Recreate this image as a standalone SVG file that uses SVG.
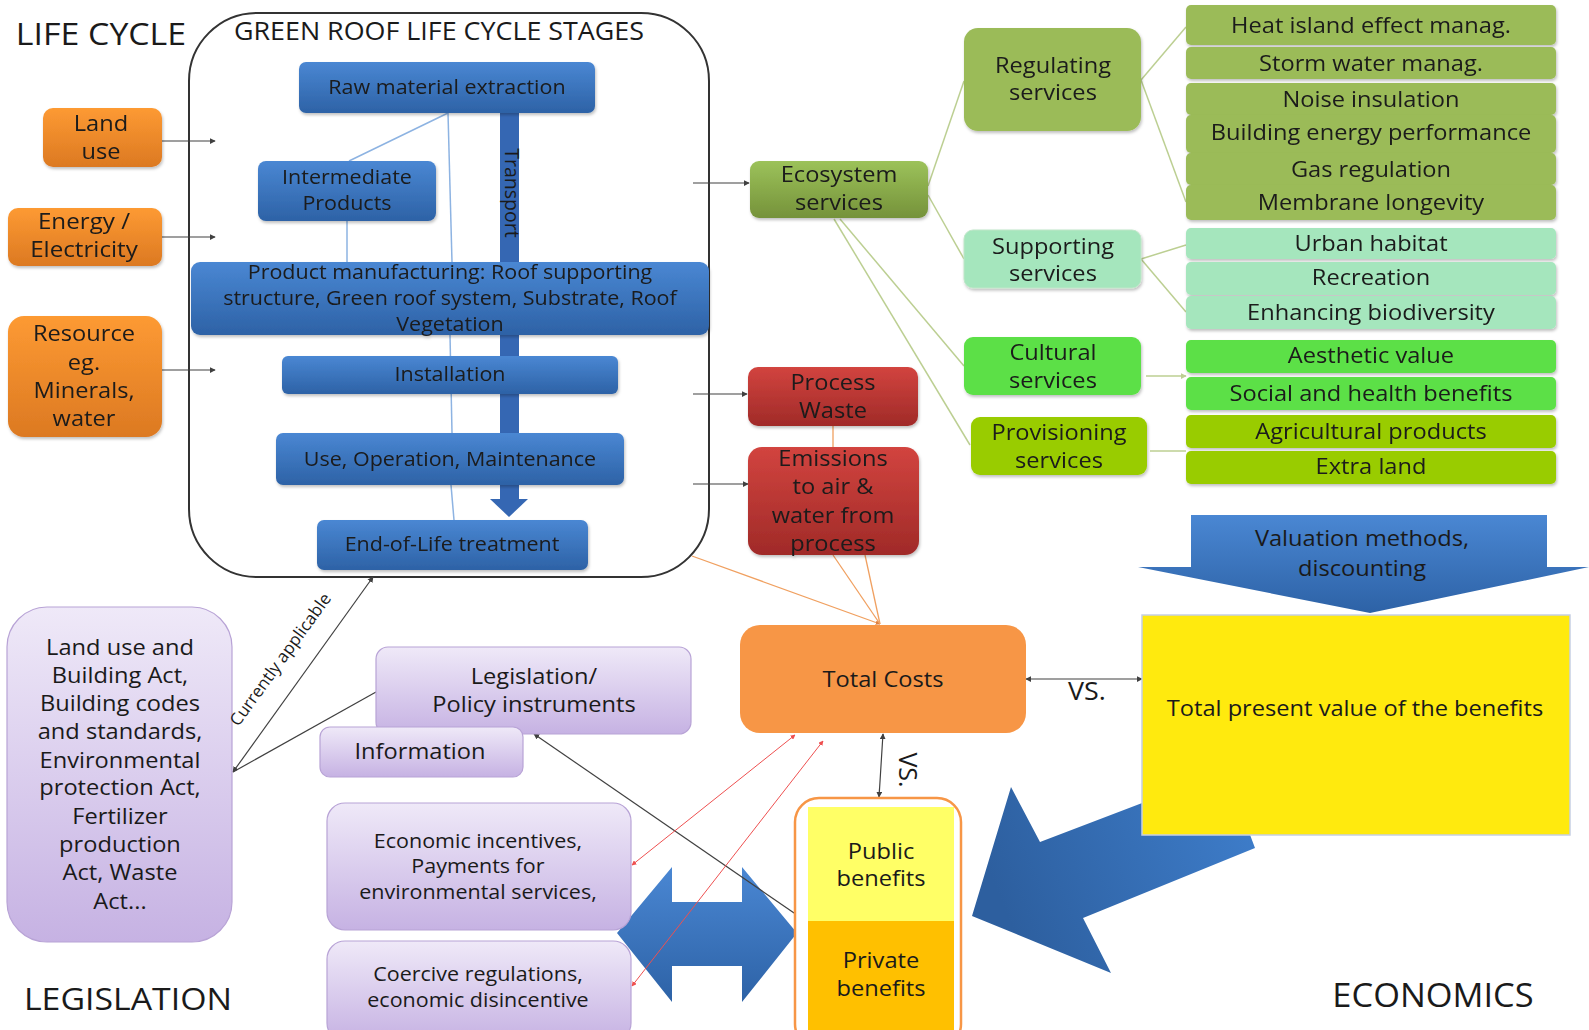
<svg xmlns="http://www.w3.org/2000/svg" width="1589" height="1030" viewBox="0 0 1589 1030">
<style>
.tx{font-family:'Open Sans','Liberation Sans',sans-serif;fill:#1a1a1a;text-anchor:middle;transform-box:fill-box;transform-origin:center;transform:scaleX(1.075)}
.rt{font-family:'Open Sans','Liberation Sans',sans-serif;fill:#1a1a1a;text-anchor:middle}
.s20{font-size:20px}.s21{font-size:21px}.s22{font-size:22px}
.blue{fill:url(#gBlue)}
.org{fill:url(#gOrg)}
.red{fill:url(#gRed)}
.pur{fill:url(#gPur);stroke:#b8a3d6;stroke-width:1.2}
.sh{filter:url(#shadow)}
.ln{fill:none;stroke:#404040;stroke-width:1.2}
.lb{fill:none;stroke:#8db3e2;stroke-width:1.5}
.lg{fill:none;stroke:#bccf92;stroke-width:1.5}
.lo{fill:none;stroke:#f0a060;stroke-width:1.3}
.lr{fill:none;stroke:#ee5050;stroke-width:1}
</style>
<defs>
<linearGradient id="gBlue" x1="0" y1="0" x2="0" y2="1"><stop offset="0" stop-color="#4a87d3"/><stop offset="1" stop-color="#2d62a6"/></linearGradient>
<linearGradient id="gBlueH" x1="1" y1="0" x2="0" y2="0.3"><stop offset="0" stop-color="#3f7fcd"/><stop offset="1" stop-color="#2d5f9f"/></linearGradient>
<linearGradient id="gOrg" x1="0" y1="0" x2="0" y2="1"><stop offset="0" stop-color="#fd9a33"/><stop offset="1" stop-color="#dc7922"/></linearGradient>
<linearGradient id="gRed" x1="0" y1="0" x2="0" y2="1"><stop offset="0" stop-color="#d2443f"/><stop offset="1" stop-color="#a02a28"/></linearGradient>
<linearGradient id="gGreen" x1="0" y1="0" x2="0" y2="1"><stop offset="0" stop-color="#9cc25a"/><stop offset="1" stop-color="#75923a"/></linearGradient>
<linearGradient id="gPur" x1="0" y1="0" x2="0" y2="1"><stop offset="0" stop-color="#efe9f8"/><stop offset="1" stop-color="#c6b2e3"/></linearGradient>
<filter id="shadow" x="-10%" y="-10%" width="120%" height="130%"><feDropShadow dx="1" dy="2" stdDeviation="1.5" flood-color="#000" flood-opacity="0.25"/></filter>
<marker id="ak" viewBox="0 0 8 8" refX="7" refY="4" markerWidth="6" markerHeight="6" markerUnits="userSpaceOnUse" orient="auto-start-reverse"><path d="M0,0 L8,4 L0,8 z" fill="#404040"/></marker>
<marker id="ag" viewBox="0 0 8 8" refX="7" refY="4" markerWidth="6" markerHeight="6" markerUnits="userSpaceOnUse" orient="auto-start-reverse"><path d="M0,0 L8,4 L0,8 z" fill="#bccf92"/></marker>
<marker id="ar" viewBox="0 0 8 8" refX="7" refY="4" markerWidth="5" markerHeight="5" markerUnits="userSpaceOnUse" orient="auto-start-reverse"><path d="M0,0 L8,4 L0,8 z" fill="#ee5050"/></marker>
<marker id="ao" viewBox="0 0 8 8" refX="7" refY="4" markerWidth="5" markerHeight="5" markerUnits="userSpaceOnUse" orient="auto-start-reverse"><path d="M0,0 L8,4 L0,8 z" fill="#e08040"/></marker>
</defs>
<rect width="1589" height="1030" fill="#ffffff"/>

<!-- section titles -->
<text class="tx" x="101" y="45" font-size="31.5">LIFE CYCLE</text>
<text class="tx" x="128" y="1010" font-size="31.5">LEGISLATION</text>
<text class="tx" x="1433" y="1007" font-size="32">ECONOMICS</text>

<!-- life cycle frame -->
<g id="life-cycle-frame">
<rect x="189" y="13" width="520" height="564" rx="68" fill="#ffffff" stroke="#333333" stroke-width="2"/>
<text class="tx" x="439" y="40" font-size="25">GREEN ROOF LIFE CYCLE STAGES</text>
</g>

<!-- transport arrow -->
<g id="transport">
<rect x="500" y="113" width="19" height="386" fill="#3567b3"/>
<polygon points="490,499 528,499 509,517" fill="#3567b3"/>
<text class="rt" font-size="19.5" transform="translate(512,193) rotate(90)" x="0" y="7">Transport</text>
</g>

<!-- big arrows -->
<g id="benefit-arrow">
<polygon points="1226,771 1040,842 1011,787 972,916 1111,973 1083,918 1255,848" fill="url(#gBlueH)"/>
</g>
<g id="policy-arrow">
<polygon points="617,933 672,867 672,902 742,902 742,867 797,933 742,1002 742,966 672,966 672,1002" fill="url(#gBlue)"/>
</g>
<g id="valuation-arrow">
<polygon points="1191,515 1547,515 1547,567 1589,567 1370,613 1138,567 1191,567" fill="url(#gBlue)"/>
<text class="tx s22" x="1362" y="546">Valuation methods,</text>
<text class="tx s22" x="1362" y="576">discounting</text>
</g>

<!-- connectors -->
<g id="connectors">
<path class="ln" d="M162,141 H215" marker-end="url(#ak)"/>
<path class="ln" d="M162,237 H215" marker-end="url(#ak)"/>
<path class="ln" d="M162,370 H215" marker-end="url(#ak)"/>
<path class="ln" d="M693,183 H749" marker-end="url(#ak)"/>
<path class="ln" d="M693,394 H747" marker-end="url(#ak)"/>
<path class="ln" d="M693,484 H748" marker-end="url(#ak)"/>
<path class="ln" d="M233,772 L373,577" marker-start="url(#ak)" marker-end="url(#ak)"/>
<path class="ln" d="M376,692 L233,772"/>
<path class="ln" d="M797,915 L534,734" marker-end="url(#ak)"/>
<path class="ln" d="M1026,679 H1142" marker-start="url(#ak)" marker-end="url(#ak)"/>
<path class="ln" d="M883,734 L879,797" marker-start="url(#ak)" marker-end="url(#ak)"/>
<path class="lb" d="M448,113 L349,161"/>
<path class="lb" d="M448,113 L452,262"/>
<path class="lb" d="M347,221 V262"/>
<path class="lb" d="M450,335 L452,433"/>
<path class="lb" d="M451,485 L454,520"/>
<path class="lg" d="M928,186 L964,81"/>
<path class="lg" d="M928,195 L964,259"/>
<path class="lg" d="M840,219 L964,366"/>
<path class="lg" d="M834,219 L970,445"/>
<path class="lg" d="M1141,80 L1186,27"/>
<path class="lg" d="M1141,80 L1186,202"/>
<path class="lg" d="M1141,259 L1186,245"/>
<path class="lg" d="M1141,259 L1186,312"/>
<path class="lg" d="M1146,376 H1186" marker-end="url(#ag)"/>
<path class="lg" d="M1150,451 H1186"/>
<path class="lo" d="M692,556 L880,624" marker-end="url(#ao)"/>
<path class="lo" d="M833,555 L880,624"/>
<path class="lo" d="M865,555 L880,624"/>
<path class="lo" d="M833,426 V447"/>
<path class="lr" d="M795,735 L632,865" marker-start="url(#ar)" marker-end="url(#ar)"/>
<path class="lr" d="M823,741 L632,986" marker-start="url(#ar)" marker-end="url(#ar)"/>
</g>

<!-- left inputs -->
<g id="land-use" class="sh"><rect class="org" x="43" y="108" width="119" height="59" rx="10"/>
<text class="tx s22" x="101" y="131">Land</text><text class="tx s22" x="101" y="159">use</text></g>
<g id="energy" class="sh"><rect class="org" x="8" y="208" width="154" height="58" rx="10"/>
<text class="tx" font-size="22.5" x="84" y="229">Energy /</text><text class="tx" font-size="22.5" x="84" y="257">Electricity</text></g>
<g id="resource" class="sh"><rect class="org" x="8" y="316" width="154" height="121" rx="16"/>
<text class="tx s22" x="84" y="341">Resource</text><text class="tx s22" x="84" y="370">eg.</text><text class="tx s22" x="84" y="398">Minerals,</text><text class="tx s22" x="84" y="426">water</text></g>

<!-- life cycle stages -->
<g id="raw-material" class="sh"><rect class="blue" x="299" y="62" width="296" height="51" rx="7"/>
<text class="tx s20" x="447" y="94">Raw material extraction</text></g>
<g id="intermediate" class="sh"><rect class="blue" x="258" y="161" width="178" height="60" rx="8"/>
<text class="tx s20" x="347" y="184">Intermediate</text><text class="tx s20" x="347" y="210">Products</text></g>
<g id="manufacturing" class="sh"><rect class="blue" x="191" y="262" width="518" height="73" rx="9"/>
<text class="tx s20" x="450" y="279">Product manufacturing: Roof supporting</text>
<text class="tx s20" x="450" y="305">structure, Green roof system, Substrate, Roof</text>
<text class="tx s20" x="450" y="331">Vegetation</text></g>
<g id="installation" class="sh"><rect class="blue" x="282" y="356" width="336" height="38" rx="6"/>
<text class="tx s20" x="450" y="381">Installation</text></g>
<g id="use-operation" class="sh"><rect class="blue" x="276" y="433" width="348" height="52" rx="7"/>
<text class="tx s20" x="450" y="466">Use, Operation, Maintenance</text></g>
<g id="end-of-life" class="sh"><rect class="blue" x="317" y="520" width="271" height="50" rx="7"/>
<text class="tx s20" x="452" y="551">End-of-Life treatment</text></g>

<!-- outputs -->
<g id="ecosystem" class="sh"><rect fill="url(#gGreen)" x="750" y="161" width="178" height="57" rx="9"/>
<text class="tx s22" x="839" y="182">Ecosystem</text><text class="tx s22" x="839" y="210">services</text></g>
<g id="process-waste" class="sh"><rect class="red" x="748" y="367" width="170" height="59" rx="10"/>
<text class="tx s22" x="833" y="390">Process</text><text class="tx s22" x="833" y="418">Waste</text></g>
<g id="emissions" class="sh"><rect class="red" x="748" y="447" width="171" height="108" rx="14"/>
<text class="tx s22" x="833" y="466">Emissions</text><text class="tx s22" x="833" y="494">to air &amp;</text><text class="tx s22" x="833" y="523">water from</text><text class="tx s22" x="833" y="551">process</text></g>

<!-- service categories -->
<g id="regulating" class="sh"><rect fill="#9bbb59" x="964" y="28" width="177" height="103" rx="14"/>
<text class="tx s22" x="1053" y="73">Regulating</text><text class="tx s22" x="1053" y="100">services</text></g>
<g id="supporting" class="sh"><rect fill="#a5e6bd" stroke="#bfe6c8" x="964" y="230" width="177" height="58" rx="9"/>
<text class="tx s22" x="1053" y="254">Supporting</text><text class="tx s22" x="1053" y="281">services</text></g>
<g id="cultural" class="sh"><rect fill="#5ce046" x="964" y="337" width="177" height="58" rx="9"/>
<text class="tx s22" x="1053" y="360">Cultural</text><text class="tx s22" x="1053" y="388">services</text></g>
<g id="provisioning" class="sh"><rect fill="#99cc00" x="971" y="417" width="176" height="58" rx="9"/>
<text class="tx s22" x="1059" y="440">Provisioning</text><text class="tx s22" x="1059" y="468">services</text></g>

<!-- services list -->
<g id="heat-island" class="sh"><rect fill="#9bbb59" x="1186" y="5" width="370" height="40" rx="5"/><text class="tx s22" x="1371" y="33">Heat island effect manag.</text></g>
<g id="storm-water" class="sh"><rect fill="#9bbb59" x="1186" y="47" width="370" height="32" rx="5"/><text class="tx s22" x="1371" y="71">Storm water manag.</text></g>
<g id="noise" class="sh"><rect fill="#9bbb59" x="1186" y="83" width="370" height="32" rx="5"/><text class="tx s22" x="1371" y="107">Noise insulation</text></g>
<g id="building-energy" class="sh"><rect fill="#9bbb59" x="1186" y="115" width="370" height="38" rx="5"/><text class="tx s22" x="1371" y="140">Building energy performance</text></g>
<g id="gas" class="sh"><rect fill="#9bbb59" x="1186" y="153" width="370" height="32" rx="5"/><text class="tx s22" x="1371" y="177">Gas regulation</text></g>
<g id="membrane" class="sh"><rect fill="#9bbb59" x="1186" y="185" width="370" height="35" rx="5"/><text class="tx s22" x="1371" y="210">Membrane longevity</text></g>
<g id="urban-habitat" class="sh"><rect fill="#a5e6bd" x="1186" y="228" width="370" height="31" rx="5"/><text class="tx s22" x="1371" y="251">Urban habitat</text></g>
<g id="recreation" class="sh"><rect fill="#a5e6bd" x="1186" y="262" width="370" height="33" rx="5"/><text class="tx s22" x="1371" y="285">Recreation</text></g>
<g id="biodiversity" class="sh"><rect fill="#a5e6bd" x="1186" y="296" width="370" height="33" rx="5"/><text class="tx s22" x="1371" y="320">Enhancing biodiversity</text></g>
<g id="aesthetic" class="sh"><rect fill="#5ce046" x="1186" y="340" width="370" height="33" rx="5"/><text class="tx s22" x="1371" y="363">Aesthetic value</text></g>
<g id="social-health" class="sh"><rect fill="#5ce046" x="1186" y="377" width="370" height="33" rx="5"/><text class="tx s22" x="1371" y="401">Social and health benefits</text></g>
<g id="agricultural" class="sh"><rect fill="#99cc00" x="1186" y="415" width="370" height="33" rx="5"/><text class="tx s22" x="1371" y="439">Agricultural products</text></g>
<g id="extra-land" class="sh"><rect fill="#99cc00" x="1186" y="451" width="370" height="33" rx="5"/><text class="tx s22" x="1371" y="474">Extra land</text></g>

<!-- economics -->
<g id="total-costs"><rect fill="#f79646" x="740" y="625" width="286" height="108" rx="20"/>
<text class="tx s22" x="883" y="687">Total Costs</text></g>
<text class="tx" font-size="25" x="1087" y="700">VS.</text>
<text class="rt" font-size="25" transform="translate(907,770) rotate(90)" x="0" y="8">VS.</text>
<g id="total-present-value"><rect fill="#ffea0e" stroke="#c6cfe3" stroke-width="1.5" x="1142" y="615" width="428" height="220"/>
<text class="tx s22" x="1355" y="716">Total present value of the benefits</text></g>
<g id="benefits">
<rect x="795" y="798" width="166" height="250" rx="24" fill="#ffffff" stroke="#f79646" stroke-width="2.5"/>
<rect x="808" y="807" width="146" height="114" fill="#ffff66"/>
<rect x="808" y="921" width="146" height="110" fill="#ffc000"/>
<text class="tx s22" x="881" y="859">Public</text><text class="tx s22" x="881" y="886">benefits</text>
<text class="tx s22" x="881" y="968">Private</text><text class="tx s22" x="881" y="996">benefits</text>
</g>

<!-- legislation -->
<g id="acts"><rect class="pur" x="7" y="607" width="225" height="335" rx="40"/>
<text class="tx s22" x="120" y="655">Land use and</text>
<text class="tx s22" x="120" y="683">Building Act,</text>
<text class="tx s22" x="120" y="711">Building codes</text>
<text class="tx s22" x="120" y="739">and standards,</text>
<text class="tx s22" x="120" y="768">Environmental</text>
<text class="tx s22" x="120" y="795">protection Act,</text>
<text class="tx s22" x="120" y="824">Fertilizer</text>
<text class="tx s22" x="120" y="852">production</text>
<text class="tx s22" x="120" y="880">Act, Waste</text>
<text class="tx s22" x="120" y="909">Act...</text></g>
<text class="rt" font-size="17" transform="translate(281,660) rotate(-54)" x="0" y="5">Currently applicable</text>
<g id="legislation-policy"><rect class="pur" x="376" y="647" width="315" height="87" rx="12"/>
<text class="tx s22" x="534" y="684">Legislation/</text><text class="tx s22" x="534" y="712">Policy instruments</text></g>
<g id="information"><rect class="pur" x="320" y="727" width="203" height="50" rx="10"/>
<text class="tx s22" x="420" y="759">Information</text></g>
<g id="economic-incentives"><rect class="pur" x="327" y="803" width="304" height="127" rx="18"/>
<text class="tx s20" x="478" y="848">Economic incentives,</text><text class="tx s20" x="478" y="873">Payments for</text><text class="tx s20" x="478" y="899">environmental services,</text></g>
<g id="coercive"><rect class="pur" x="327" y="941" width="304" height="100" rx="18"/>
<text class="tx s20" x="478" y="981">Coercive regulations,</text><text class="tx s20" x="478" y="1007">economic disincentive</text></g>
</svg>
